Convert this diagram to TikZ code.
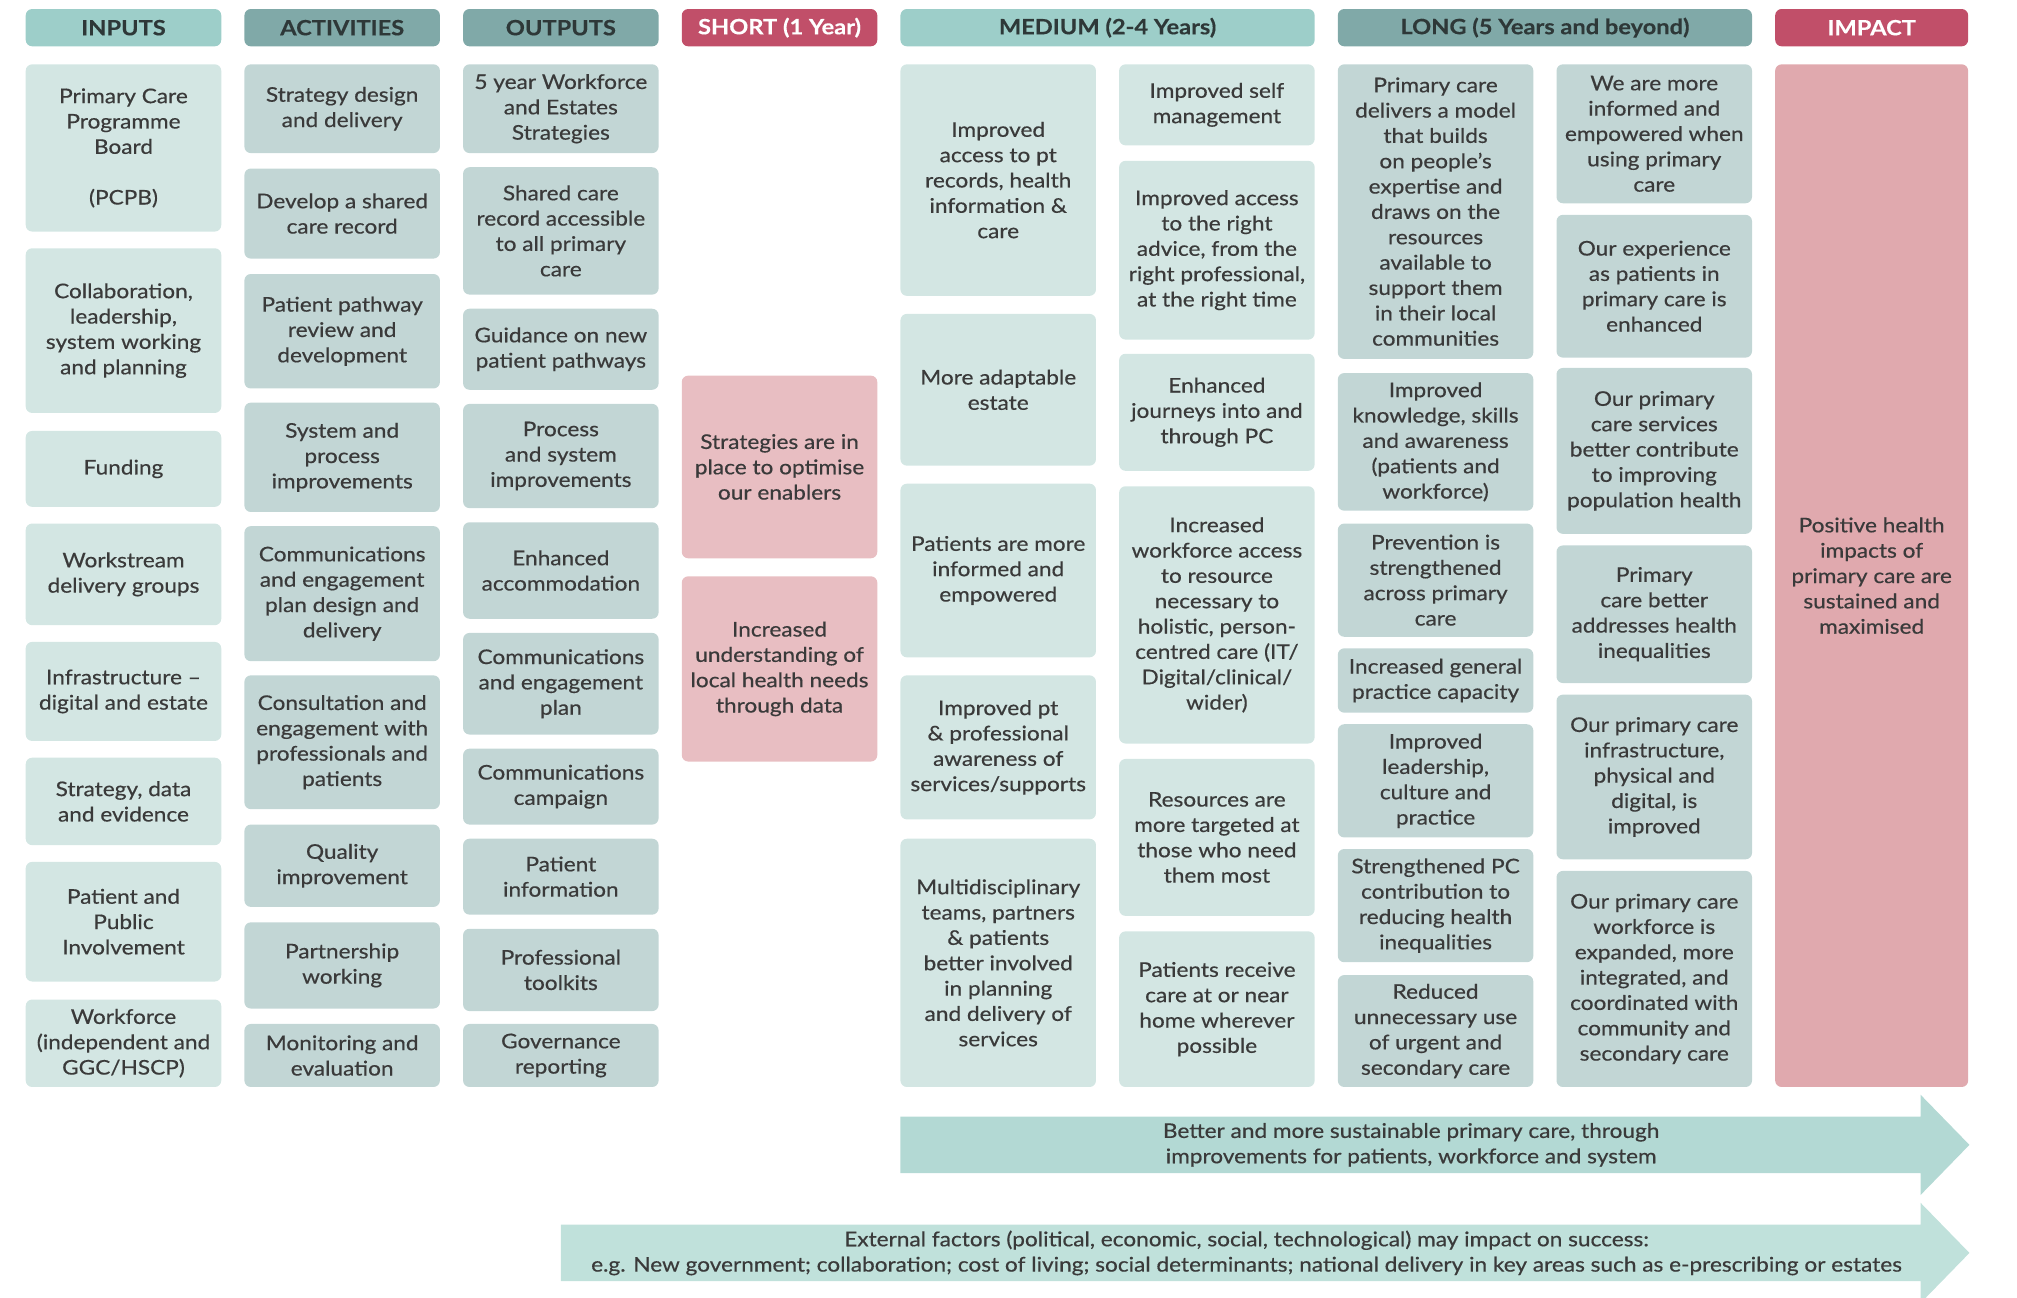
\documentclass[tikz,border=0pt]{standalone}
\usepackage{fontspec}
\setmainfont{Lato}[FakeStretch=1.12, UprightFeatures={FakeBold=0.5}, BoldFeatures={FakeBold=0.3}]
\definecolor{txt}{HTML}{3A3A3A}
\definecolor{hdrtxt}{HTML}{2E3838}
\definecolor{hdrA}{HTML}{9DCEC9}
\definecolor{hdrB}{HTML}{80A9A8}
\definecolor{hdrC}{HTML}{C14F69}
\definecolor{boxA}{HTML}{D3E6E3}
\definecolor{boxB}{HTML}{C2D6D5}
\definecolor{boxC}{HTML}{E8BEC2}
\definecolor{boxD}{HTML}{E0A9AE}
\definecolor{arrA}{HTML}{B3D9D4}
\definecolor{arrB}{HTML}{C0E1DB}

\newcommand{\lmbox}[7]{\node[#2, minimum width={(#5-#3)*0.5pt}, minimum height={(#6-#4)*0.5pt}] (#1) at ({(#3+#5)/2},{(#4+#6)/2}) {#7};}

\begin{document}
\begin{tikzpicture}[x=0.5pt,y=-0.5pt,
  base/.style={rounded corners=2.5pt, align=center, inner sep=0pt, text=txt, font=\fontsize{7.85}{9.85}\selectfont},
  hdrlight/.style={base, fill=hdrA, text=hdrtxt, font=\fontsize{8.2}{10}\selectfont\bfseries},
  hdrdark/.style={base, fill=hdrB, text=hdrtxt, font=\fontsize{8.2}{10}\selectfont\bfseries},
  hdrred/.style={base, fill=hdrC, text=white, font=\fontsize{8.2}{10}\selectfont\bfseries},
  lightbox/.style={base, fill=boxA},
  greybox/.style={base, fill=boxB},
  pinkbox/.style={base, fill=boxC},
  impbox/.style={base, fill=boxD},
  arrtext/.style={align=center, inner sep=0pt, text=txt, font=\fontsize{7.85}{9.85}\selectfont}
]
\useasboundingbox (0,0) rectangle (1568,1009);
\clip (0,0) rectangle (1568,1009);

% headers
\lmbox{hin}{hdrlight}{20}{7}{172}{36}{INPUTS}
\lmbox{hact}{hdrdark}{190}{7}{342}{36}{ACTIVITIES}
\lmbox{hout}{hdrdark}{360}{7}{512}{36}{OUTPUTS}
\lmbox{hshort}{hdrred}{530}{7}{682}{36}{SHORT (1 Year)}
\lmbox{hmed}{hdrlight}{700}{7}{1022}{36}{MEDIUM (2-4 Years)}
\lmbox{hlong}{hdrdark}{1040}{7}{1362}{36}{LONG (5 Years and beyond)}
\lmbox{himp}{hdrred}{1380}{7}{1530}{36}{IMPACT}

% inputs
\lmbox{i1}{lightbox}{20}{50}{172}{180}{Primary Care\\Programme\\Board\\[9.85pt](PCPB)}
\lmbox{i2}{lightbox}{20}{193}{172}{321}{Collaboration,\\leadership,\\system working\\and planning}
\lmbox{i3}{lightbox}{20}{335}{172}{394}{Funding}
\lmbox{i4}{lightbox}{20}{407}{172}{486}{Workstream\\delivery groups}
\lmbox{i5}{lightbox}{20}{499}{172}{576}{Infrastructure –\\digital and estate}
\lmbox{i6}{lightbox}{20}{589}{172}{657}{Strategy, data\\and evidence}
\lmbox{i7}{lightbox}{20}{670}{172}{763}{Patient and\\Public\\Involvement}
\lmbox{i8}{lightbox}{20}{777}{172}{845}{Workforce\\(independent and\\GGC/HSCP)}

% activities
\lmbox{a1}{greybox}{190}{50}{342}{119}{Strategy design\\and delivery}
\lmbox{a2}{greybox}{190}{131}{342}{201}{Develop a shared\\care record}
\lmbox{a3}{greybox}{190}{213}{342}{302}{Patient pathway\\review and\\development}
\lmbox{a4}{greybox}{190}{313}{342}{398}{System and\\process\\improvements}
\lmbox{a5}{greybox}{190}{409}{342}{514}{Communications\\and engagement\\plan design and\\delivery}
\lmbox{a6}{greybox}{190}{525}{342}{629}{Consultation and\\engagement with\\professionals and\\patients}
\lmbox{a7}{greybox}{190}{641}{342}{705}{Quality\\improvement}
\lmbox{a8}{greybox}{190}{717}{342}{784}{Partnership\\working}
\lmbox{a9}{greybox}{190}{796}{342}{845}{Monitoring and\\evaluation}

% outputs
\lmbox{o1}{greybox}{360}{50}{512}{119}{5 year Workforce\\and Estates\\Strategies}
\lmbox{o2}{greybox}{360}{130}{512}{229}{Shared care\\record accessible\\to all primary\\care}
\lmbox{o3}{greybox}{360}{240}{512}{303}{Guidance on new\\patient pathways}
\lmbox{o4}{greybox}{360}{314}{512}{395}{Process\\and system\\improvements}
\lmbox{o5}{greybox}{360}{406}{512}{481}{Enhanced\\accommodation}
\lmbox{o6}{greybox}{360}{492}{512}{571}{Communications\\and engagement\\plan}
\lmbox{o7}{greybox}{360}{582}{512}{641}{Communications\\campaign}
\lmbox{o8}{greybox}{360}{652}{512}{711}{Patient\\information}
\lmbox{o9}{greybox}{360}{722}{512}{786}{Professional\\toolkits}
\lmbox{o10}{greybox}{360}{796}{512}{845}{Governance\\reporting}

% short
\lmbox{s1}{pinkbox}{530}{292}{682}{434}{Strategies are in\\place to optimise\\our enablers}
\lmbox{s2}{pinkbox}{530}{448}{682}{592}{Increased\\understanding of\\local health needs\\through data}

% medium
\lmbox{m1}{lightbox}{700}{50}{852}{230}{Improved\\access to pt\\records, health\\information \&\\care}
\lmbox{m2}{lightbox}{700}{244}{852}{362}{More adaptable\\estate}
\lmbox{m3}{lightbox}{700}{376}{852}{511}{Patients are more\\informed and\\empowered}
\lmbox{m4}{lightbox}{700}{525}{852}{637}{Improved pt\\\& professional\\awareness of\\services/supports}
\lmbox{m5}{lightbox}{700}{652}{852}{845}{Multidisciplinary\\teams, partners\\\& patients\\better involved\\in planning\\and delivery of\\services}
\lmbox{m6}{lightbox}{870}{50}{1022}{113}{Improved self\\management}
\lmbox{m7}{lightbox}{870}{125}{1022}{264}{Improved access\\to the right\\advice, from the\\right professional,\\at the right time}
\lmbox{m8}{lightbox}{870}{275}{1022}{366}{Enhanced\\journeys into and\\through PC}
\lmbox{m9}{lightbox}{870}{378}{1022}{578}{Increased\\workforce access\\to resource\\necessary to\\holistic, person-\\centred care (IT/\\Digital/clinical/\\wider)}
\lmbox{m10}{lightbox}{870}{590}{1022}{712}{Resources are\\more targeted at\\those who need\\them most}
\lmbox{m11}{lightbox}{870}{724}{1022}{845}{Patients receive\\care at or near\\home wherever\\possible}

% long
\lmbox{l1}{greybox}{1040}{50}{1192}{279}{Primary care\\delivers a model\\that builds\\on people’s\\expertise and\\draws on the\\resources\\available to\\support them\\in their local\\communities}
\lmbox{l2}{greybox}{1040}{290}{1192}{397}{Improved\\knowledge, skills\\and awareness\\(patients and\\workforce)}
\lmbox{l3}{greybox}{1040}{407}{1192}{495}{Prevention is\\strengthened\\across primary\\care}
\lmbox{l4}{greybox}{1040}{504}{1192}{554}{Increased general\\practice capacity}
\lmbox{l5}{greybox}{1040}{563}{1192}{651}{Improved\\leadership,\\culture and\\practice}
\lmbox{l6}{greybox}{1040}{660}{1192}{748}{Strengthened PC\\contribution to\\reducing health\\inequalities}
\lmbox{l7}{greybox}{1040}{758}{1192}{845}{Reduced\\unnecessary use\\of urgent and\\secondary care}
\lmbox{l8}{greybox}{1210}{50}{1362}{158}{We are more\\informed and\\empowered when\\using primary\\care}
\lmbox{l9}{greybox}{1210}{167}{1362}{278}{Our experience\\as patients in\\primary care is\\enhanced}
\lmbox{l10}{greybox}{1210}{286}{1362}{415}{Our primary\\care services\\better contribute\\to improving\\population health}
\lmbox{l11}{greybox}{1210}{424}{1362}{531}{Primary\\care better\\addresses health\\inequalities}
\lmbox{l12}{greybox}{1210}{540}{1362}{668}{Our primary care\\infrastructure,\\physical and\\digital, is\\improved}
\lmbox{l13}{greybox}{1210}{677}{1362}{845}{Our primary care\\workforce is\\expanded, more\\integrated, and\\coordinated with\\community and\\secondary care}

% impact
\lmbox{imp}{impbox}{1380}{50}{1530}{845}{Positive health\\impacts of\\primary care are\\sustained and\\maximised}

% arrows
\fill[arrA] (700,868) -- (1493,868) -- (1493,851) -- (1531,890) -- (1493,929) -- (1493,912) -- (700,912) -- cycle;
\node[arrtext] (better) at (1097,890) {Better and more sustainable primary care, through\\improvements for patients, workforce and system};
\fill[arrB] (436,952) -- (1493,952) -- (1493,935) -- (1531,974) -- (1493,1013) -- (1493,996) -- (436,996) -- cycle;
\node[arrtext] (ext) at (969,974) {External factors (political, economic, social, technological) may impact on success:\\e.g. New government; collaboration; cost of living; social determinants; national delivery in key areas such as e-prescribing or estates};
\end{tikzpicture}
\end{document}
